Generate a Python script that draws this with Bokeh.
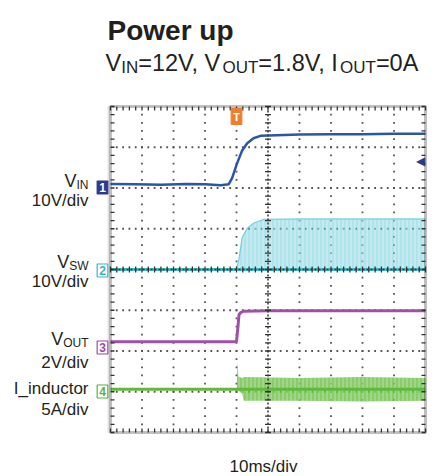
import numpy as np
from bokeh.plotting import figure
from bokeh.models import Range1d, Label, BoxAnnotation
from bokeh.embed import file_html
from bokeh.resources import INLINE

# ---------------- data ----------------
# time in ms (10 ms/div, 10 divisions)
vin_t = [0, 8, 16, 24, 30, 35, 37.5, 38.6, 40.2, 41.8, 43.4, 45.4, 47.6, 50.2, 60, 70, 80, 90, 100]
vin_v = [0.1, 0.0, -0.1, 0.1, 0.0, -0.2, 0.0, 1.5, 5.2, 8.3, 10.1, 11.3, 11.9, 12.0, 12.2, 12.3, 12.3, 12.4, 12.4]

vsw_t = [39.9, 40.7, 41.8, 43.4, 45.5, 48.7, 60, 80, 100]
vsw_hi = [0, 2.2, 7.9, 10.1, 11.4, 12.3, 12.4, 12.4, 12.4]
vsw_lo = [0, 0, 0, 0, 0, 0, 0, 0, 0]

vout_t = [0, 20, 40.0, 40.5, 40.8, 41.3, 42.2, 50, 75, 100]
vout_v = [0, 0, 0, 0.79, 1.33, 1.42, 1.49, 1.52, 1.52, 1.52]

il_t = [40.1, 40.3, 40.6, 41.0, 41.8, 42.3, 60, 80, 100]
il_hi = [0, 3.4, 1.6, 1.5, 1.4, 1.5, 1.4, 1.5, 1.4]
il_lo = [0, 0, -0.2, -0.3, -0.5, -1.4, -1.4, -1.5, -1.4]

trigger_t = 40          # ms
trigger_level = 5.7     # V on channel 1

# channel scale (units/div) and zero position (divisions from bottom)
ch_scale = {"ch1": 10, "ch2": 10, "ch3": 2, "ch4": 5}
ch_zero = {"ch1": 6.09, "ch2": 4.0, "ch3": 2.23, "ch4": 1.06}

# ---------------- layout ----------------
W, H = 435, 476
L, T, R, B = 110, 106, 425, 432   # scope screen in canvas pixels
NX, NY = 10, 8
TMAX = 100
FONT = "Liberation Sans"
INK = "#231f20"

def dx(px):
    return (px - L) / (R - L) * TMAX

def dy(py):
    return (B - py) / (B - T) * NY

p = figure(width=W, height=H, x_range=Range1d(dx(0), dx(W)), y_range=Range1d(dy(H), dy(0)),
           x_axis_type=None, y_axis_type=None,
           output_backend="svg", toolbar_location=None,
           min_border_left=0, min_border_right=0, min_border_top=0, min_border_bottom=0)
p.outline_line_color = None
p.background_fill_color = "white"
p.border_fill_color = "white"

p.extra_y_ranges = {k: Range1d(start=(dy(H) - ch_zero[k]) * ch_scale[k],
                               end=(dy(0) - ch_zero[k]) * ch_scale[k]) for k in ch_scale}

# ---------------- graticule ----------------
xdiv = TMAX / NX
sub_x = np.arange(0, TMAX + 1e-9, xdiv / 5)
sub_y = np.arange(0, NY + 1e-9, 0.2)
gx, gy = [], []
for k in range(1, NY):
    if k == NY // 2:
        continue
    gx += list(sub_x[1:-1]); gy += [k] * (len(sub_x) - 2)
for k in range(1, NX):
    if k == NX // 2:
        continue
    gx += [k * xdiv] * (len(sub_y) - 2); gy += list(sub_y[1:-1])
p.scatter(gx, gy, marker="square", size=1.8, color="#555555", line_color=None)

# ---------------- traces ----------------
p.varea(x=vsw_t, y1=vsw_lo, y2=vsw_hi, y_range_name="ch2",
        fill_color="#62c9d7", fill_alpha=0.5,
        hatch_pattern="|", hatch_color="white", hatch_alpha=0.45, hatch_scale=4, hatch_weight=1)
p.line(vsw_t, vsw_hi, y_range_name="ch2", color="#5cc7d5", line_width=1.2, line_alpha=0.8)
p.line([0, TMAX], [0, 0], y_range_name="ch2", color="#45bccb", line_width=3)

p.varea(x=il_t, y1=il_lo, y2=il_hi, y_range_name="ch4",
        fill_color="#6cbf45", fill_alpha=0.8,
        hatch_pattern="|", hatch_color="white", hatch_alpha=0.4, hatch_scale=4, hatch_weight=1)
p.line([0, TMAX], [0, 0], y_range_name="ch4", color="#62b83c", line_width=3)

p.line(vout_t, vout_v, y_range_name="ch3", color="#a24fa8", line_width=3)
p.line(vin_t, vin_v, y_range_name="ch1", color="#2c55a5", line_width=2.5)

# centre cross lines with ticks
cx = NX // 2 * xdiv
cy = NY // 2
p.segment(x0=[cx], y0=[0], x1=[cx], y1=[NY], color="#333333", line_width=1.5, line_dash="2 2")
p.segment(x0=[0], y0=[cy], x1=[TMAX], y1=[cy], color="#333333", line_width=1.5, line_dash="2 2")
tx = 3 / (R - L) * TMAX   # 3 px in x data units
ty = 3 / (B - T) * NY     # 3 px in y data units
p.segment(x0=list(sub_x), y0=[cy - ty] * len(sub_x), x1=list(sub_x), y1=[cy + ty] * len(sub_x),
          color="#333333", line_width=1.3)
p.segment(x0=[cx - tx] * len(sub_y), y0=list(sub_y), x1=[cx + tx] * len(sub_y), y1=list(sub_y),
          color="#333333", line_width=1.3)
# ticks on frame edges (pointing inward)
e = 4 / 3
p.segment(x0=list(sub_x), y0=[0] * len(sub_x), x1=list(sub_x), y1=[ty * e] * len(sub_x),
          color="#333333", line_width=1.3)
p.segment(x0=list(sub_x), y0=[NY] * len(sub_x), x1=list(sub_x), y1=[NY - ty * e] * len(sub_x),
          color="#333333", line_width=1.3)
p.segment(x0=[0] * len(sub_y), y0=list(sub_y), x1=[tx * e] * len(sub_y), y1=list(sub_y),
          color="#333333", line_width=1.3)
p.segment(x0=[TMAX] * len(sub_y), y0=list(sub_y), x1=[TMAX - tx * e] * len(sub_y), y1=list(sub_y),
          color="#333333", line_width=1.3)

# scope frame (with a faint shadow on the left)
p.add_layout(BoxAnnotation(left=dx(L - 2.5), right=dx(L - 1.5), bottom=0, top=NY, fill_alpha=0,
                           line_color="#9a9a9a", line_width=1))
p.add_layout(BoxAnnotation(left=0, right=TMAX, bottom=0, top=NY, fill_alpha=0,
                           line_color="#2a2a2a", line_width=3))

# ---------------- text ----------------
AW = {'V': .667, 'I': .278, 'N': .722, '=': .584, '1': .556, '2': .556, '0': .556, '8': .556,
      '.': .278, ',': .278, ' ': .278, 'O': .778, 'U': .722, 'T': .611, 'A': .667, 'S': .667,
      'W': .944, '/': .278, 'd': .556, 'i': .222, 'v': .5, '5': .556}

def tw(s, size):
    return sum(AW.get(c, .556) for c in s) * size

def lab(text, px, py, size, align="left", bold=False, color=INK, baseline="alphabetic", font=FONT, **kw):
    p.add_layout(Label(x=dx(px), y=dy(py), text=text, text_font=font,
                       text_font_size=f"{size}px", text_align=align, text_baseline=baseline,
                       text_color=color, text_font_style="bold" if bold else "normal", **kw))

def rich(parts, px, py, main, sub, drop):
    x = px
    for s, is_sub in parts:
        size = sub if is_sub else main
        lab(s, x, py + (drop if is_sub else 0), size)
        x += tw(s, size)

def rich_right(parts, px_right, py, main, sub, drop):
    total = sum(tw(s, sub if is_sub else main) for s, is_sub in parts)
    rich(parts, px_right - total, py, main, sub, drop)

lab("Power up", 107, 30, 28, bold=True)
rich([("V", 0), ("IN", 1), ("=12V, V", 0), ("OUT", 1), ("=1.8V, I", 0), ("OUT", 1), ("=0A", 0)],
     105, 62, 23.5, 17, 5)

RX = 88
rich_right([("V", 0), ("IN", 1)], RX, 180, 18, 12, 4)
lab("10V/div", RX, 200, 17, align="right")
rich_right([("V", 0), ("SW", 1)], RX, 261, 18, 12, 4)
lab("10V/div", RX, 281, 17, align="right")
rich_right([("V", 0), ("OUT", 1)], RX, 338, 18, 12, 4)
lab("2V/div", RX, 362, 17, align="right")
lab("I_inductor", RX, 388, 17, align="right")
lab("5A/div", RX, 409, 17, align="right")
lab("10ms/div", 263, 466, 17, align="center")

# channel markers
def marker(txt, py, color, filled):
    lab(txt, 102, py, 12, align="center", baseline="middle",
        color="white" if filled else color, bold=True,
        background_fill_color=color if filled else "white",
        border_line_color=color, border_line_width=1.2, padding=2)

marker("1", 187, "#2b3a8e", True)
marker("2", 270, "#3bb6c6", False)
marker("3", 347, "#9b4aa3", False)
marker("4", 391, "#5cb13a", False)

# trigger markers
p.add_layout(Label(x=trigger_t, y=dy(116), text="T", text_font=FONT, text_font_size="11px",
                   text_font_style="bold", text_color="white", text_align="center",
                   text_baseline="middle", background_fill_color="#ef7d2d",
                   border_line_color="#ef7d2d", padding=2))
p.add_layout(Label(x=dx(420), y=trigger_level / ch_scale["ch1"] + ch_zero["ch1"],
                   text="◀", text_font="DejaVu Sans", text_font_size="12px",
                   text_color="#2b3a8e", text_align="center", text_baseline="middle"))

open("out.html", "w").write(file_html(p, INLINE))
